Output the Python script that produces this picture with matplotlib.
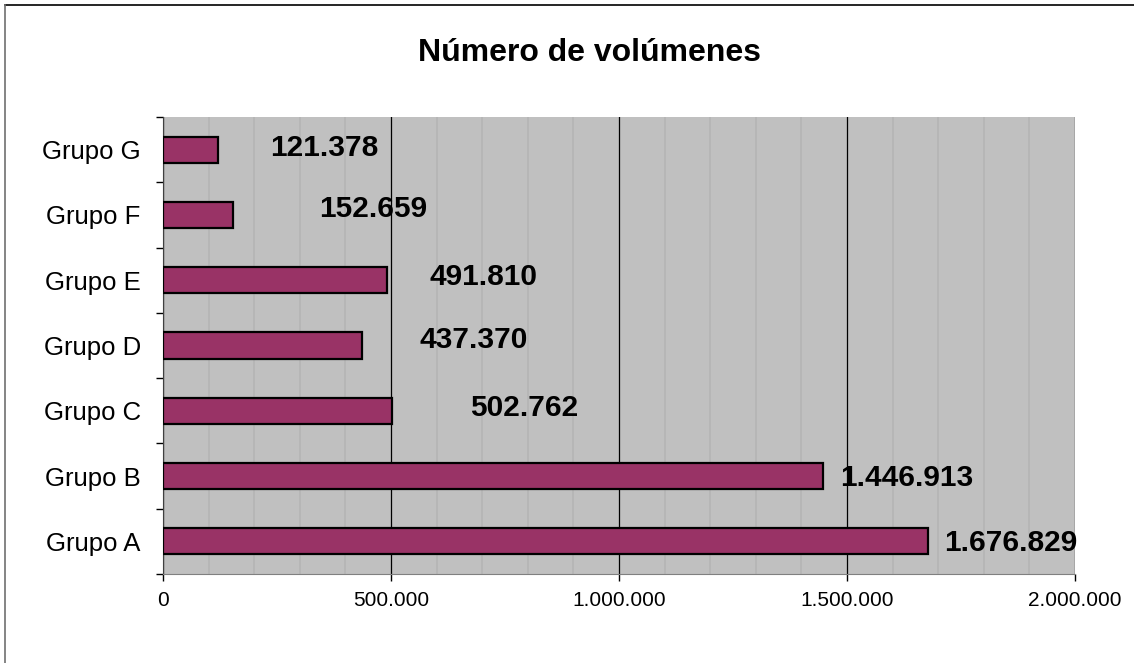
import numpy as np
import matplotlib
matplotlib.use('Agg')
import matplotlib.pyplot as plt
from matplotlib.lines import Line2D

# data
groups = ['Grupo A', 'Grupo B', 'Grupo C', 'Grupo D', 'Grupo E', 'Grupo F', 'Grupo G']
volumes = [1676829, 1446913, 502762, 437370, 491810, 152659, 121378]
TITLE = 'Número de volúmenes'

# label offsets from bar end, pixels (Excel-ish placement)
LBL_DX = [16, 17, 78, 57, 42, 87, 52]
LBL_DY = [-2, -2, 3, 6, 3, 6, 2]

def fmt(v):
    return f'{v:,}'.replace(',', '.')

plt.rcParams['font.family'] = ['Liberation Sans', 'DejaVu Sans']

fig = plt.figure(figsize=(11.34, 6.63), dpi=100)
ax = fig.add_axes([163/1134, 89/663, 912/1134, 457/663])
ax.set_facecolor('#c0c0c0')

y = np.arange(len(groups))
ax.barh(y, volumes, height=0.4, color='#993366', edgecolor='black', lw=1.6, zorder=3)

ax.set_xlim(0, 2000000)
ax.set_ylim(-0.5, len(groups) - 0.5)
ax.set_xticks(np.arange(0, 2000001, 500000))
ax.set_xticklabels([fmt(v) for v in range(0, 2000001, 500000)], fontsize=15)
ax.set_xticks(np.arange(0, 2000001, 100000), minor=True)
ax.set_yticks(y)
ax.set_yticklabels(groups, fontsize=18.5)
ax.set_yticks(np.arange(-0.5, len(groups), 1.0), minor=True)
ax.tick_params(axis='y', which='major', length=0, pad=16)
ax.tick_params(axis='y', which='minor', length=5, width=1)
ax.tick_params(axis='x', which='major', length=5, width=1, pad=7)
ax.tick_params(axis='x', which='minor', length=0)
ax.grid(axis='x', which='minor', color='#b4b4b4', lw=1.2, zorder=1)
ax.grid(axis='x', which='major', color='black', lw=0.9, zorder=2)
for s in ['top', 'right']:
    ax.spines[s].set_visible(False)
ax.spines['left'].set_color('#404040')
ax.spines['bottom'].set_color('#808080')

for yi, v, dx, dy in zip(y, volumes, LBL_DX, LBL_DY):
    ax.annotate(fmt(v), (v, yi), xytext=(dx, dy), textcoords='offset pixels',
                ha='left', va='center', fontsize=21.5, fontweight='bold', zorder=4)

fig.text(590/1134, 1 - 53/663, TITLE, ha='center', va='center',
         fontsize=23, fontweight='bold')

# outer chart border
fig.add_artist(Line2D([5/1134, 1], [1 - 5/663, 1 - 5/663], color='black', lw=1.2))
fig.add_artist(Line2D([5/1134, 5/1134], [0, 1 - 5/663], color='#707070', lw=1.2))

fig.savefig('out.png', dpi=100)
